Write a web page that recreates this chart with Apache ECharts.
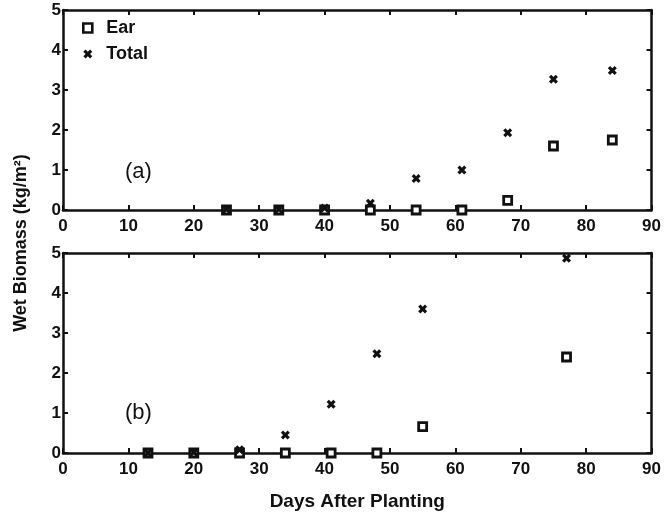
<!DOCTYPE html>
<html>
<head>
<meta charset="utf-8">
<script src="https://cdn.jsdelivr.net/npm/echarts@6/dist/echarts.min.js"></script>
<style>html,body{margin:0;padding:0;background:#fff}#c{width:664px;height:514px}</style>
</head>
<body>
<div id="c"></div>
<script>
// Panel (a)
const daysA = [25, 33, 40, 47, 54, 61, 68, 75, 84];
const earA = [0, 0, 0, 0, 0, 0, 0.24, 1.6, 1.75];
const totalA = [0.02, 0.02, 0.05, 0.17, 0.79, 1.0, 1.93, 3.27, 3.49];
// Panel (b)
const daysB = [13, 20, 27, 34, 41, 48, 55, 77];
const earB = [0, 0, 0, 0, 0, 0, 0.66, 2.4];
const totalB = [0, 0.02, 0.08, 0.45, 1.22, 2.48, 3.6, 4.87];
const xTicks = [0, 10, 20, 30, 40, 50, 60, 70, 80, 90];
const yTicks = [0, 1, 2, 3, 4, 5];

const FONT = '"Liberation Sans", Arial, Helvetica, sans-serif';
const crossPath = 'path://M0,2.5 L2.5,0 L5,2.5 L7.5,0 L10,2.5 L7.5,5 L10,7.5 L7.5,10 L5,7.5 L2.5,10 L0,7.5 L2.5,5 Z';
const zip = (xs, ys) => xs.map((x, i) => [x, ys[i]]);

function xAx(gi, pos, labels, name) {
  return {
    type: 'value', gridIndex: gi, position: pos,
    min: xTicks[0], max: xTicks[xTicks.length - 1], interval: 10,
    axisLine: { onZero: false, lineStyle: { color: '#111', width: 2.5 } },
    axisTick: { show: true, inside: true, length: 5, lineStyle: { color: '#111', width: 2 } },
    axisLabel: { show: labels, color: '#111', fontFamily: FONT, fontWeight: 'bold', fontSize: 17, margin: 8 },
    splitLine: { show: false },
    name: name || '', nameLocation: 'middle', nameGap: 39,
    nameTextStyle: { color: '#111', fontFamily: FONT, fontWeight: 'bold', fontSize: 19 }
  };
}
function yAx(gi, pos, labels) {
  return {
    type: 'value', gridIndex: gi, position: pos,
    min: yTicks[0], max: yTicks[yTicks.length - 1], interval: 1,
    axisLine: { onZero: false, lineStyle: { color: '#111', width: 2.5 } },
    axisTick: { show: true, inside: true, length: 5, lineStyle: { color: '#111', width: 2 } },
    axisLabel: { show: labels, color: '#111', fontFamily: FONT, fontWeight: 'bold', fontSize: 17, margin: 2 },
    splitLine: { show: false }
  };
}
const earStyle = { color: '#fff', borderColor: '#111', borderWidth: 2.8, opacity: 1 };
const totStyle = { color: '#111', opacity: 1 };

const chart = echarts.init(document.getElementById('c'), null, { renderer: 'canvas' });
chart.setOption({
  animation: false,
  backgroundColor: '#fff',
  grid: [
    { left: 63, top: 10, width: 590, height: 200 },
    { left: 63, top: 253, width: 590, height: 200 }
  ],
  xAxis: [xAx(0, 'bottom', true), xAx(0, 'top', false), xAx(1, 'bottom', true, 'Days After Planting'), xAx(1, 'top', false)],
  yAxis: [yAx(0, 'left', true), yAx(0, 'right', false), yAx(1, 'left', true), yAx(1, 'right', false)],
  legend: {
    orient: 'vertical', left: 77, top: 14, itemWidth: 9, itemHeight: 9, itemGap: 8,
    textStyle: { color: '#111', fontFamily: FONT, fontWeight: 'bold', fontSize: 18, padding: [0, 0, 0, 9] },
    data: [
      { name: 'Ear', icon: 'rect', itemStyle: { color: '#fff', borderColor: '#111', borderWidth: 2.6 } },
      { name: 'Total', icon: crossPath, itemStyle: { color: '#111', borderWidth: 0 } }
    ]
  },
  graphic: [
    { type: 'text', left: 125, top: 161, style: { text: '(a)', font: '22px ' + FONT, fill: '#111' } },
    { type: 'text', left: 125, top: 402, style: { text: '(b)', font: '22px ' + FONT, fill: '#111' } },
    { type: 'text', x: 21, y: 243, rotation: Math.PI / 2, style: { text: 'Wet Biomass (kg/m²)', font: 'bold 18px ' + FONT, fill: '#111', align: 'center', verticalAlign: 'middle' } }
  ],
  series: [
    { name: 'Ear', type: 'scatter', xAxisIndex: 0, yAxisIndex: 0, symbol: 'rect', symbolSize: 8, itemStyle: earStyle, data: zip(daysA, earA), clip: false, z: 3 },
    { name: 'Total', type: 'scatter', xAxisIndex: 0, yAxisIndex: 0, symbol: crossPath, symbolSize: 9, itemStyle: totStyle, data: zip(daysA, totalA), clip: false, z: 4 },
    { name: 'Ear', type: 'scatter', xAxisIndex: 2, yAxisIndex: 2, symbol: 'rect', symbolSize: 8, itemStyle: earStyle, data: zip(daysB, earB), clip: false, z: 3 },
    { name: 'Total', type: 'scatter', xAxisIndex: 2, yAxisIndex: 2, symbol: crossPath, symbolSize: 9, itemStyle: totStyle, data: zip(daysB, totalB), clip: false, z: 4 }
  ]
});
</script>
</body>
</html>
